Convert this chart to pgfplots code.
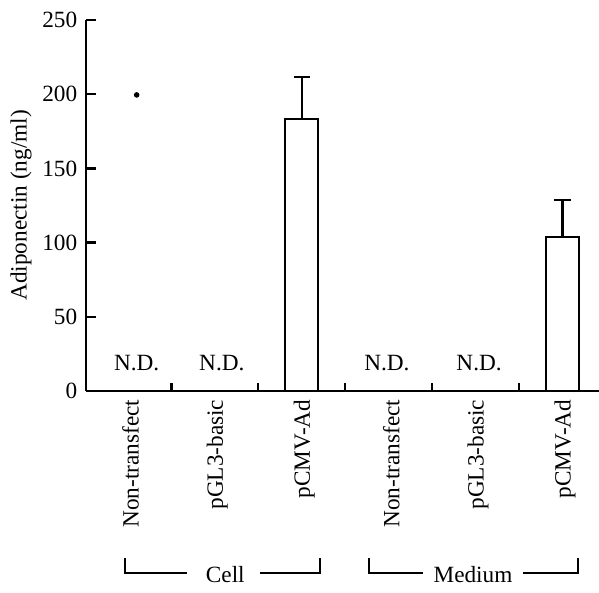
\documentclass[border=0pt]{standalone}
\usepackage{fontspec}
\setmainfont{Liberation Serif}
\usepackage{pgfplots}
\pgfplotsset{compat=1.18}

\begin{document}
\begin{tikzpicture}
\begin{axis}[
  scale only axis,
  width=205.2pt, height=148.4pt,
  xmin=-0.483, xmax=5.42,
  ymin=0, ymax=250,
  axis x line=bottom, axis y line=left,
  axis line style={-, line width=0.9pt},
  every inner x axis line/.append style={-},
  every inner y axis line/.append style={-},
  tick align=inside,
  tick style={black, line width=0.9pt},
  ytick={0,50,...,250},
  major tick length=4pt,
  minor tick length=3.2pt,
  xtick={0,...,5},
  xticklabels={Non-transfect,pGL3-basic,pCMV-Ad,Non-transfect,pGL3-basic,pCMV-Ad},
  major x tick style={draw=none},
  minor xtick={0.5,1.5,2.5,3.5,4.5},
  xticklabel style={rotate=90, anchor=east, yshift=-1pt},
  ylabel={Adiponectin (ng/ml)},
  ylabel style={yshift=-2.6pt},
  font=\fontsize{9.3}{11}\selectfont,
  /pgf/number format/assume math mode=true,
  clip=false,
]
\coordinate (bl) at (rel axis cs:0,0);
\coordinate (tr) at (rel axis cs:1,1);
\addplot+[ybar, bar width=0.38, draw=black, fill=white, line width=0.9pt, mark=none,
  error bars/.cd, y dir=plus, y explicit,
  error bar style={line width=0.9pt, black},
  error mark options={line width=0.9pt, black, mark size=3.3pt, rotate=90}]
  coordinates {(2,183.3) +- (0,28.3) (5,103.8) +- (0,24.9)};
\addplot[only marks, mark=*, mark size=0.9pt, black] coordinates {(0.1,199.5)};
\node at (axis cs:0.10,19) {N.D.};
\node at (axis cs:1.08,19) {N.D.};
\node at (axis cs:2.98,19) {N.D.};
\node at (axis cs:4.04,19) {N.D.};
% group brackets
\draw[line width=0.9pt] (axis cs:-0.035,-112.5) -- (axis cs:-0.035,-122.6) -- (axis cs:0.68,-122.6);
\draw[line width=0.9pt] (axis cs:1.52,-122.6) -- (axis cs:2.21,-122.6) -- (axis cs:2.21,-112.5);
\node at (axis cs:1.12,-124) {Cell};
\draw[line width=0.9pt] (axis cs:2.77,-112.5) -- (axis cs:2.77,-122.6) -- (axis cs:3.40,-122.6);
\draw[line width=0.9pt] (axis cs:4.54,-122.6) -- (axis cs:5.18,-122.6) -- (axis cs:5.18,-112.5);
\node at (axis cs:3.97,-124) {Medium};
\end{axis}
\pgfresetboundingbox
\path ([xshift=-34.4pt,yshift=-80.5pt]bl) rectangle ([yshift=8pt]tr);
\end{tikzpicture}
\end{document}
